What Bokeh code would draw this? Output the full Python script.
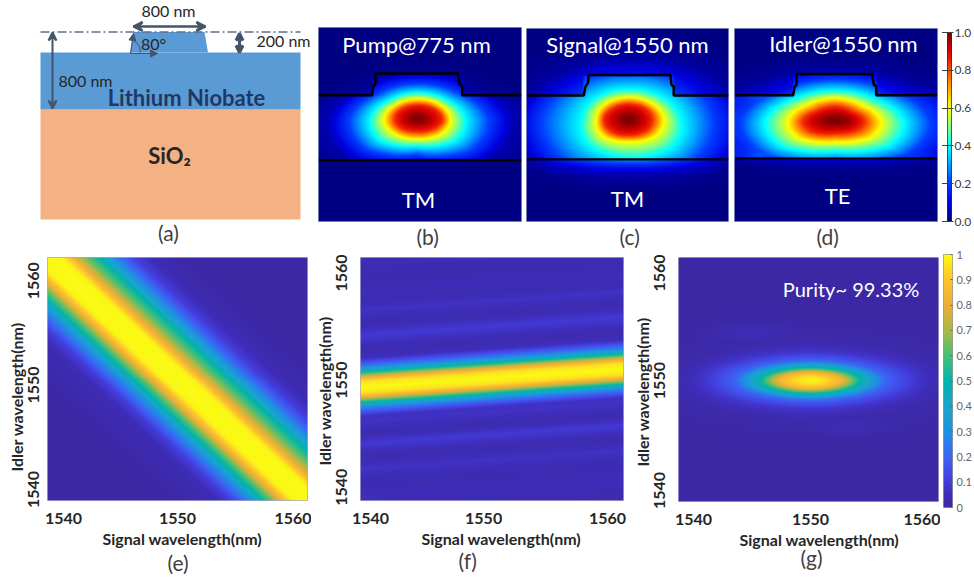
import numpy as np
from bokeh.embed import file_html
from bokeh.resources import INLINE
from bokeh.plotting import figure
from bokeh.layouts import column, row
from bokeh.models import Label, Arrow, NormalHead, VeeHead, LinearColorMapper, FixedTicker, Range1d, Title

# ---------- colour scales ----------
jet_stops = [0, .1, .2, .3, .4, .5, .6, .7, .8, .9, 1]
jet_rgb = [(0,0,130),(0,0,225),(0,60,255),(0,160,255),(0,255,255),(130,255,130),(255,255,0),(255,170,0),(255,80,0),(220,0,0),(120,0,0)]
par_stops = [0, .05, .1, .2, .3, .4, .5, .6, .7, .8, .9, 1]
par_rgb = [(60,40,165),(62,45,185),(68,60,220),(60,100,245),(30,145,225),(25,165,205),(0,180,170),(70,190,120),(170,185,70),(235,175,55),(255,195,45),(250,250,20)]

# ---------- schematic (a), page pixels ----------
slab_x = [40, 300]
slab_y = [52, 109]
sio2_y = [109, 219]
ridge_x = [130, 133, 204, 207.5]
ridge_y = [52, 31.5, 31.5, 52]

# ---------- mode fields (b)(c)(d): contour radii per level, directions E NE N NW W SW S SE ----------
levels = [1.0, .97, .85, .6, .4, .2, .05, 0.0]
b_radii = [[0]*8,
           [8,7,8,7,7,7,8,8],
           [25,23,22,22,22,23,22,24],
           [33,32,32,31,33,34,34,35],
           [48,42,42,41,47,52,45,53],
           [72,58,56,56,68,72,59,75],
           [97,78,74,74,90,95,75,98],
           [130,110,100,100,125,125,100,130]]
c_radii = [[0]*8,
           [8,8,8,8,8,8,8,8],
           [23,23,23,23,25,25,24,24],
           [35,33,33,33,32,36,33,36],
           [52,47,45,46,47,55,57,60],
           [85,78,70,75,88,90,80,90],
           [120,105,95,100,115,120,110,120],
           [170,150,135,145,170,170,150,170]]
d_radii = [[0]*8,
           [13,11,10,11,13,12,10,12],
           [28,24,28,26,32,34,28,30],
           [45,40,45,42,47,52,45,50],
           [68,58,60,60,70,76,64,75],
           [95,82,82,82,95,100,85,100],
           [140,110,105,110,140,135,110,135],
           [190,150,135,150,190,170,150,170]]
b_center, c_center, d_center = (416.7, 118.3), (628.3, 120.0), (835.0, 121.0)
b_aspect, c_aspect, d_aspect = 1.6, 1.5, 2.0
below_dist = [0, 4, 10, 20, 40, 70]
b_below = [.15, .05, .03, 0, 0, 0]
c_below = [.75, .6, .4, .2, .04, 0]
d_below = [.35, .25, .15, .08, 0, 0]
b_air, c_air, d_air = .35, .6, .55
d_wing_x = [734, 745, 752, 760, 768, 776, 900, 910, 918, 926, 937]
d_wing_v = [.15, .17, .2, .22, .2, .19, .17, .19, .17, .15, .12]
c_wing_x = [526, 540, 555, 570, 690, 700, 712, 728]
c_wing_v = [.05, .08, .1, .12, .12, .09, .07, .04]

b_line_x = [318.3, 371.7, 372.7, 375, 375, 457.7, 459, 461.7, 461.7, 521]
b_line_y = [95, 95, 86.7, 83.3, 73.3, 73.3, 83.3, 86.7, 95, 95]
c_line_x = [526.7, 583.3, 585, 587.3, 588.3, 670, 671, 673.3, 673.3, 728]
c_line_y = [95.7, 95.7, 86.7, 83.3, 75, 75, 85, 86.7, 95.7, 95.7]
d_line_x = [735, 792.7, 794, 796, 796, 871.7, 873.3, 875.7, 875.7, 936.7]
d_line_y = [95.7, 95.7, 87.7, 85, 74.3, 74.3, 85, 86.7, 95.7, 95.7]
b_low_y, c_low_y, d_low_y = 160.3, 160.3, 160.0

# ---------- spectra (e)(f)(g), wavelengths in nm ----------
wl_range = (1539, 1561)
e_ridge_s, e_ridge_i = [1539, 1561], [1561, 1539]
e_off = [-12, -7.8, -6.5, -5.45, -4.6, -3.8, -2.9, -2.3, -1.6, -1.2, 0, 1.2, 1.6, 2.3, 3.2, 4.4, 5.2, 6.2, 7.4, 8.9, 12]
e_val = [0, .04, .1, .22, .33, .5, .65, .8, .93, .99, 1, .99, .93, .8, .65, .5, .36, .22, .1, .04, 0]
f_ridge_s, f_ridge_i = [1539, 1561], [1549.25, 1550.9]
f_off = [-16, -12, -10, -8.7, -7.4, -6.3, -5.1, -4.2, -3.1, -2.6, -2.0, -1.65, -1.3, -.95, -.55, 0, .55, .95, 1.3, 1.65, 2.0, 2.6, 3.4, 4.7, 5.8, 7, 7.9, 8.6, 9.6, 11, 16]
f_val = [.03, .02, .05, .03, .07, .03, .09, .03, .07, .06, .22, .36, .55, .78, .95, 1, .95, .78, .55, .36, .22, .06, .03, .09, .03, .07, .03, .05, .03, .04, .02]
g_center = (810.0, 380.0)
g_aspect = 4.0
g_levels = [1.0, .95, .85, .5, .2, .08, .02, 0.0]
g_radii = [[0]*8,
           [14,14,14,14,14,14,14,14],
           [30,30,32,30,30,30,32,30],
           [50,50,52,50,50,50,52,50],
           [75,76,80,76,75,76,80,76],
           [105,108,112,108,105,108,112,108],
           [135,145,160,145,135,145,160,145],
           [200,230,260,230,200,230,260,230]]
g_lobe_centers = [(753, 332), (847, 425)]
g_lobe_levels = [.05, .045, .02, 0.0]
g_lobe_radii = [[0]*8, [12]*8, [40]*8, [80]*8]
g_lobe_aspect = 5.0

wl_ticks_text = ["1540", "1550", "1560"]
e_xticks, e_yticks = [1540.35, 1550, 1559.8], [1540, 1549.46, 1558.9]
f_xticks, f_yticks = [1539.84, 1549.3, 1559.66], [1540.2, 1549.9, 1559.6]
g_xticks, g_yticks = [1540.27, 1550.17, 1559.65], [1540, 1549.9, 1559.6]
cb1_ticks = [0, .2, .4, .6, .8, 1]
cb2_ticks = [0, .1, .2, .3, .4, .5, .6, .7, .8, .9, 1]

FONT = "Lato"
TEXT = "#262626"
CAPTION = "#404040"


def palette(stops, rgb):
    t = np.linspace(0, 1, 256)
    a = np.array(rgb, dtype=float)
    out = np.stack([np.interp(t, stops, a[:, k]) for k in range(3)], axis=1)
    return ["#%02x%02x%02x" % tuple(int(round(c)) for c in p) for p in out]


JET = LinearColorMapper(palette=palette(jet_stops, jet_rgb), low=0, high=1)
PAR = LinearColorMapper(palette=palette(par_stops, par_rgb), low=0, high=1)


def blur(a, n):
    k = np.ones(n) / n
    pad = n // 2
    b = np.pad(a, pad, mode="edge")
    b = np.apply_along_axis(lambda m: np.convolve(m, k, mode="same"), 0, b)
    b = np.apply_along_axis(lambda m: np.convolve(m, k, mode="same"), 1, b)
    return b[pad:-pad, pad:-pad]


def polar_field(xx, yy, center, aspect, lv, radii):
    dx = xx - center[0]
    dy = (yy - center[1]) * aspect
    th = np.mod(np.arctan2(-dy, dx), 2 * np.pi) / (np.pi / 4)
    i0 = np.floor(th).astype(int) % 8
    i1 = (i0 + 1) % 8
    f = th - np.floor(th)
    R = np.array(radii, dtype=float)
    r = np.hypot(dx, dy)
    v = np.zeros_like(r)
    prev = R[0][i0] * (1 - f) + R[0][i1] * f
    for k in range(1, len(lv)):
        cur = R[k][i0] * (1 - f) + R[k][i1] * f
        m = (r >= prev) & (r < cur)
        v[m] = lv[k - 1] + (lv[k] - lv[k - 1]) * (r[m] - prev[m]) / (cur[m] - prev[m])
        prev = cur
    return v


def page_grid(x0, x1, y0, y1):
    xs = np.arange(x0, x1) + .5
    ys = np.arange(y0, y1) + .5
    return np.meshgrid(xs, ys)


def mode_panel(box, center, aspect, radii, line_x, line_y, low_y, below, air, wing=None):
    x0, x1, y0, y1 = box
    xx, yy = page_grid(x0, x1, y0, y1)
    v = polar_field(xx, yy, center, aspect, levels, radii)
    top = line_y[0]
    if wing is not None:
        w = np.interp(xx, wing[0], wing[1])
        m = (yy > top) & (yy < low_y)
        v[m] = np.maximum(v[m], w[m])
    m = yy >= low_y
    v[m] = v[m] * np.interp(yy[m] - low_y, below_dist, below)
    inside = (xx > line_x[1]) & (xx < line_x[-2]) & (yy > line_y[4])
    m = (yy < top) & ~inside
    v[m] = v[m] * air
    return blur(v, 3)


def side_title(p, side, text, offset, standoff, size, color, style="normal"):
    p.add_layout(Title(text=text, align="left", offset=offset, standoff=standoff, text_font=FONT, text_font_size=size,
                       text_color=color, text_font_style=style), side)


def make_mode(box, fig_box, field, line_x, line_y, low_y, texts, caption):
    x0, x1, y0, y1 = box
    fx0, fx1, fy0, fy1 = fig_box
    p = figure(width=fx1 - fx0, height=fy1 - fy0, x_range=Range1d(x0, x1), y_range=Range1d(-y1, -y0),
               x_axis_location=None, y_axis_location=None, toolbar_location=None, output_backend="svg",
               min_border_left=x0 - fx0, min_border_right=fx1 - x1, min_border_top=y0 - fy0, min_border_bottom=fy1 - y1,
               background_fill_color="#000083", outline_line_color="#9aa6c4", outline_line_width=1, border_fill_color="white",
               frame_align=False)
    p.grid.visible = False
    p.image(image=[np.flipud(field)], x=x0, y=-y1, dw=x1 - x0, dh=y1 - y0, color_mapper=JET)
    p.line(line_x, [-y for y in line_y], line_color="black", line_width=2.5)
    p.line([line_x[0], line_x[-1]], [-low_y, -low_y], line_color="black", line_width=2.2)
    for t, x, y, size, col in texts:
        p.add_layout(Label(x=x, y=-y, text=t, text_font=FONT, text_font_size=size, text_color=col,
                           text_align="center", text_baseline="middle"))
    side_title(p, "below", caption[0], caption[1] - x0, 0, "21px", CAPTION)
    return p


def band_field(nx, ny, ridge_s, ridge_i, off, val):
    s = np.linspace(wl_range[0], wl_range[1], nx, endpoint=False) + (wl_range[1] - wl_range[0]) / nx / 2
    i = np.linspace(wl_range[0], wl_range[1], ny, endpoint=False) + (wl_range[1] - wl_range[0]) / ny / 2
    ss, ii = np.meshgrid(s, i)
    c = np.interp(ss, ridge_s, ridge_i)
    return blur(np.interp(ii - c, off, val), 3)


def make_spec(fr, fig_box, field, xticks, yticks, x_stand, y_stand, xlabel_left, ylabel_off, caption_left, caption, cap_stand=0, extra=None):
    x0, x1, y0, y1 = fr
    fx0, fx1, fy0, fy1 = fig_box
    p = figure(width=fx1 - fx0, height=fy1 - fy0, x_range=Range1d(*wl_range), y_range=Range1d(*wl_range),
               toolbar_location=None, output_backend="svg",
               min_border_left=x0 - fx0, min_border_right=fx1 - x1, min_border_top=y0 - fy0, min_border_bottom=fy1 - y1,
               outline_line_color="#a8a8c8", outline_line_width=1, frame_align=False)
    p.grid.visible = False
    p.image(image=[field], x=wl_range[0], y=wl_range[0], dw=22, dh=22, color_mapper=PAR)
    for ax, ticks, st in ((p.xaxis[0], xticks, x_stand), (p.yaxis[0], yticks, y_stand)):
        ax.ticker = FixedTicker(ticks=ticks)
        ax.major_label_overrides = {t: s for t, s in zip(ticks, wl_ticks_text)}
        ax.major_tick_line_color = None
        ax.minor_tick_line_color = None
        ax.axis_line_color = None
        ax.major_label_text_font = FONT
        ax.major_label_text_font_size = "16px"
        ax.major_label_text_font_style = "bold"
        ax.major_label_text_color = TEXT
        ax.major_label_standoff = st
    p.yaxis[0].major_label_orientation = "parallel"
    side_title(p, "below", "Signal wavelength(nm)", xlabel_left - x0, 0, "16px", TEXT, "bold")
    side_title(p, "below", caption, caption_left - x0, cap_stand, "21px", CAPTION)
    side_title(p, "left", "Idler wavelength(nm)", ylabel_off, 0, "16px", TEXT, "bold")
    if extra:
        p.add_layout(Label(x=extra[1], y=extra[2], text=extra[0], text_font=FONT, text_font_size="20px",
                           text_color="white", text_align="center", text_baseline="middle"))
    return p


def make_cbar(fr, fig_box, mapper, ticks, fmt, size, color, tick_in, tick_out, stand, outline):
    x0, x1, y0, y1 = fr
    fx0, fx1, fy0, fy1 = fig_box
    p = figure(width=fx1 - fx0, height=fy1 - fy0, x_range=Range1d(0, 1), y_range=Range1d(0, 1),
               x_axis_location=None, y_axis_location="right", toolbar_location=None, output_backend="svg",
               min_border_left=x0 - fx0, min_border_right=fx1 - x1, min_border_top=y0 - fy0, min_border_bottom=fy1 - y1,
               outline_line_color=outline, frame_align=False)
    p.grid.visible = False
    p.image(image=[np.linspace(0, 1, 256).reshape(-1, 1)], x=0, y=0, dw=1, dh=1, color_mapper=mapper)
    ax = p.yaxis[0]
    ax.ticker = FixedTicker(ticks=ticks)
    ax.major_label_overrides = {t: fmt(t) for t in ticks}
    ax.axis_line_color = None
    ax.minor_tick_line_color = None
    ax.major_tick_in = tick_in
    ax.major_tick_out = tick_out
    ax.major_tick_line_color = color
    ax.major_label_standoff = stand
    ax.major_label_text_font = FONT
    ax.major_label_text_font_size = size
    ax.major_label_text_color = color
    return p


# ---------- panel (a) ----------
pa = figure(width=316, height=248, x_range=Range1d(0, 316), y_range=Range1d(248, 0), x_axis_location=None,
            y_axis_location=None, toolbar_location=None, output_backend="svg", min_border=0, outline_line_color=None,
            frame_align=False)
pa.grid.visible = False
pa.quad(left=slab_x[0], right=slab_x[1], top=sio2_y[0], bottom=sio2_y[1], fill_color="#F4B183", line_color=None)
pa.quad(left=slab_x[0], right=slab_x[1], top=slab_y[0], bottom=slab_y[1], fill_color="#5B9BD5", line_color=None)
pa.patch(ridge_x, ridge_y, fill_color="#5B9BD5", line_color=None)
ARROW = "#44546A"
pa.line(slab_x, [31.5, 31.5], line_color="#5f6f8c", line_width=1.6, line_dash="9 3 2 3")
for xa, ya, xb, yb, w, sz in [(133, 26, 205, 26, 2.5, 9), (52, 32, 52, 108, 2, 8), (239, 33, 239, 52, 3, 7)]:
    pa.add_layout(Arrow(x_start=xa, y_start=ya, x_end=xb, y_end=yb, line_color=ARROW, line_width=w,
                        start=VeeHead(size=sz, line_color=ARROW, fill_color=ARROW, line_width=w),
                        end=VeeHead(size=sz, line_color=ARROW, fill_color=ARROW, line_width=w)))
for xa, ya, xb, yb in [(130, 53, 157, 53), (130, 53, 133, 33)]:
    pa.add_layout(Arrow(x_start=xa, y_start=ya, x_end=xb, y_end=yb, line_color=ARROW, line_width=1.2,
                        end=NormalHead(size=7, line_color=ARROW, fill_color=ARROW)))
pa.line([140, 139, 136, 132], [52, 46, 42, 39], line_color=ARROW, line_width=1)
for t, x, y, size, col, style in [("800 nm", 168, 10, "16px", TEXT, "normal"),
                                  ("80°", 153, 43, "16px", TEXT, "normal"),
                                  ("200 nm", 283, 40, "16px", TEXT, "normal"),
                                  ("800 nm", 85, 80, "16px", TEXT, "normal"),
                                  ("Lithium Niobate", 186, 97, "22px", "#1F3864", "bold"),
                                  ("SiO₂", 169, 155, "22px", TEXT, "bold"),
                                  ("(a)", 168, 232, "21px", CAPTION, "normal")]:
    pa.add_layout(Label(x=x, y=y, text=t, text_font=FONT, text_font_size=size, text_color=col, text_font_style=style,
                        text_align="center", text_baseline="middle"))

# ---------- panels (b)(c)(d) ----------
b_box, c_box, d_box = (318, 521, 27, 222), (526, 728, 28, 223), (734, 937, 28, 224)
fb = mode_panel(b_box, b_center, b_aspect, b_radii, b_line_x, b_line_y, b_low_y, b_below, b_air)
fc = mode_panel(c_box, c_center, c_aspect, c_radii, c_line_x, c_line_y, c_low_y, c_below, c_air, (c_wing_x, c_wing_v))
fd = mode_panel(d_box, d_center, d_aspect, d_radii, d_line_x, d_line_y, d_low_y, d_below, d_air, (d_wing_x, d_wing_v))
pb = make_mode(b_box, (316, 524, 0, 248), fb, b_line_x, b_line_y, b_low_y,
               [("Pump@775 nm", 416, 44, "22px", "white"), ("TM", 418, 200, "22px", "white")], ("(b)", 416))
pc = make_mode(c_box, (524, 731, 0, 248), fc, c_line_x, c_line_y, c_low_y,
               [("Signal@1550 nm", 627, 44, "22px", "white"), ("TM", 627, 200, "22px", "white")], ("(c)", 619))
pd_ = make_mode(d_box, (731, 942, 0, 248), fd, d_line_x, d_line_y, d_low_y,
                [("Idler@1550 nm", 843, 43, "22px", "white"), ("TE", 837, 198, "22px", "white")], ("(d)", 816))
cb1 = make_cbar((947, 957, 32, 221), (942, 974, 0, 248), JET, cb1_ticks, lambda t: "%.1f" % t, "12px", "#404040", 10, 2, 1, "#303030")

# ---------- panels (e)(f)(g) ----------
e_fr, f_fr, g_fr = (47, 307, 257, 501), (360, 623, 257, 500), (678, 938, 257, 501)
fe = band_field(260, 244, e_ridge_s, e_ridge_i, e_off, e_val)
ff = band_field(263, 243, f_ridge_s, f_ridge_i, f_off, f_val)
xx, yy = page_grid(678, 938, 257, 501)
fg = polar_field(xx, yy, g_center, g_aspect, g_levels, g_radii)
for c in g_lobe_centers:
    fg = np.maximum(fg, polar_field(xx, yy, c, g_lobe_aspect, g_lobe_levels, g_lobe_radii))
fg = np.flipud(blur(fg, 3))
pe = make_spec(e_fr, (0, 311, 248, 574), fe, e_xticks, e_yticks, 6, 2, 102, 29, 167, "(e)")
pf = make_spec(f_fr, (311, 630, 248, 574), ff, f_xticks, f_yticks, 6, 7, 421, 35, 458, "(f)", cap_stand=-4)
pg = make_spec(g_fr, (630, 940, 248, 574), fg, g_xticks, g_yticks, 6, 7, 739, 35, 800, "(g)", cap_stand=-12,
               extra=("Purity~ 99.33%", 1553.6, 1558.2))
cb2 = make_cbar((943, 959, 254, 507), (940, 974, 248, 574), PAR, cb2_ticks, lambda t: "%g" % t, "11px", "#666666", 2, 0, 4, "#999999")

top = row(pa, pb, pc, pd_, cb1, spacing=0)
bottom = row(pe, pf, pg, cb2, spacing=0)
page = column(top, bottom, spacing=0)
open("out.html", "w").write(file_html(page, INLINE))
